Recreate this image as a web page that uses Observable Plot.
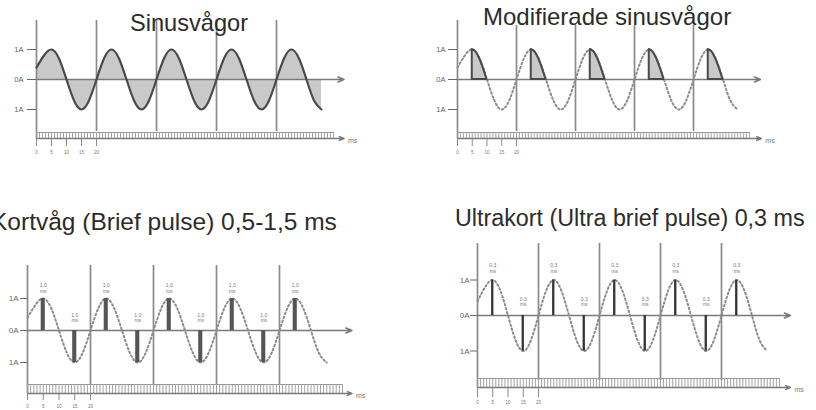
<!DOCTYPE html>
<html><head><meta charset="utf-8">
<script src="https://cdn.jsdelivr.net/npm/d3@7"></script>
<script src="https://cdn.jsdelivr.net/npm/@observablehq/plot@0.6"></script>
<style>
body{margin:0;background:#fff;}
#c{position:relative;width:816px;height:410px;overflow:hidden;background:#fff;font-family:"Liberation Sans",Arial,sans-serif;}
.t{position:absolute;white-space:nowrap;color:#2c2c2c;line-height:1;}
#c svg{position:absolute;left:0;top:0;}
</style></head><body><div id="c"></div>
<script>
// ---------- data ----------
const titles = ["Sinusvågor", "Modifierade sinusvågor", "Kortvåg (Brief pulse) 0,5-1,5 ms", "Ultrakort (Ultra brief pulse) 0,3 ms"];
const ampTicks = [1, 0, -1];
const ampLabels = ["1A", "0A", "1A"];
const gridMs = [20, 40, 60, 80];
const rulerLabelMs = [0, 5, 10, 15, 20];
const rulerLabels = ["0", "5", "10", "15", "20"];
const axisUnit = "ms";
const waveMs = [0,2.5,5,7.5,10,12.5,15,17.5,20,22.5,25,27.5,30,32.5,35,37.5,40,42.5,45,47.5,50,52.5,55,57.5,60,62.5,65,67.5,70,72.5,75,77.5,80,82.5,85,87.5,90,92.5,95];
const waveA = [0.4,0.8,1,0.7,0,-0.7,-1,-0.7, 0,0.7,1,0.7,0,-0.7,-1,-0.7, 0,0.7,1,0.7,0,-0.7,-1,-0.7, 0,0.7,1,0.7,0,-0.7,-1,-0.7, 0,0.7,1,0.7,0,-0.7,-1];
const modStartMs = [5, 25, 45, 65, 85];
const modShapeMs = [0, 1.25, 2.5, 3.75, 5];
const modShapeA = [1, 0.92, 0.7, 0.38, 0];
const pulseMs = [5, 15, 25, 35, 45, 55, 65, 75, 85];
const pulseA = [1, -1, 1, -1, 1, -1, 1, -1, 1];
const briefLabel = "1,0";
const ultraLabel = "0,3";

// ---------- tables built from the arrays ----------
const wave = waveMs.map((t, i) => ({t, a: waveA[i]}));
const modified = modStartMs.flatMap((s, c) => modShapeMs.map((o, i) => ({t: s + o, a: modShapeA[i], c})));
const pulses = pulseMs.map((t, i) => ({t, a: pulseA[i], base: pulseA[i] > 0 ? pulseA[i] : 0}));
const ampTable = ampTicks.map((a, i) => ({a, label: ampLabels[i]}));
const rulerTable = rulerLabelMs.map((t, i) => ({t, label: rulerLabels[i]}));

// ---------- layout of the four panels (pixels) ----------
const layouts = [
  {x0:36, k:3.0, y0:79, a:30, axisTop:20, vTop:20, vBot:131, rTop:132, rBot:138, tickBot:146, labY:152, rEnd:99, arrEnd:102.5, axEnd:102.5, tick:9, labDx:-13, fs:7.5},
  {x0:457, k:2.95, y0:79, a:30, axisTop:20, vTop:25, vBot:131, rTop:132, rBot:138, tickBot:146, labY:152, rEnd:99.3, arrEnd:103, axEnd:102.7, tick:9, labDx:-12, fs:7.5},
  {x0:27, k:3.15, y0:330, a:32, axisTop:265, vTop:265, vBot:385, rTop:384, rBot:393, tickBot:400, labY:406, rEnd:100, arrEnd:103, axEnd:103, tick:7, labDx:-9, fs:8},
  {x0:477, k:3.05, y0:315, a:35.5, axisTop:243, vTop:243, vBot:380, rTop:378, rBot:387, tickBot:397, labY:402, rEnd:99.3, arrEnd:102.6, axEnd:102.6, tick:7, labDx:-8, fs:8}
];
const titleLayout = [
  {left:130, top:11.5, fs:23.6},
  {left:483, top:4.7, fs:24},
  {left:-9, top:210.3, fs:24.5},
  {left:455, top:207, fs:23.3}
];

const gray = "#8a8a8a", dark = "#4a4a4a", fillGray = "#c9c9c9", labelGray = "#666";

function panel(c, kind) {
  const yA = py => (c.y0 - py) / c.a;
  const ms = px => (px - c.x0) / c.k;
  const rulerTicks = d3.range(0, Math.floor(c.rEnd) + 1, 1);
  const marks = [];
  if (kind === 0) {
    marks.push(Plot.areaY(wave, {x: "t", y: "a", curve: "natural", fill: fillGray}));
  }
  // vertical period lines
  marks.push(Plot.ruleX(gridMs, {x: d => d, y1: () => yA(c.vTop), y2: () => yA(c.vBot), stroke: gray, strokeWidth: 1.7}));
  // y axis
  marks.push(Plot.ruleX([0], {x: d => d, y1: () => yA(c.axisTop), y2: () => yA(c.rBot), stroke: gray, strokeWidth: 1.7}));
  // amplitude ticks and labels
  marks.push(Plot.ruleY(ampTable, {y: "a", x1: () => -c.tick / c.k, x2: () => 0, stroke: labelGray, strokeWidth: 1}));
  marks.push(Plot.text(ampTable, {x: () => 0, y: "a", text: "label", textAnchor: "end", dx: c.labDx, fontSize: c.fs, fill: labelGray}));
  // ruler (time axis)
  marks.push(Plot.ruleX(rulerTicks, {x: d => d, y1: () => yA(c.rTop), y2: () => yA(c.rBot), stroke: "#9a9a9a", strokeWidth: 0.9}));
  marks.push(Plot.ruleY([yA(c.rTop)], {y: d => d, x1: () => 0, x2: () => c.rEnd, stroke: "#9a9a9a", strokeWidth: 1}));
  marks.push(Plot.arrow([yA(c.rBot)], {x1: () => 0, x2: () => c.arrEnd, y1: d => d, y2: d => d, stroke: "#7a7a7a", strokeWidth: 1.5, headLength: 5, headAngle: 45}));
  marks.push(Plot.ruleX(rulerTable, {x: "t", y1: () => yA(c.rBot), y2: () => yA(c.tickBot), stroke: "#8a8a8a", strokeWidth: 1}));
  marks.push(Plot.text(rulerTable, {x: "t", y: () => yA(c.labY), text: "label", fontSize: 4.6, fill: "#777"}));
  marks.push(Plot.text([axisUnit], {x: () => c.arrEnd, y: () => yA(c.rBot + 2.5), text: d => d, textAnchor: "start", dx: 4, fontSize: 7, fill: "#777"}));
  // zero axis with arrow
  marks.push(Plot.arrow([0], {x1: () => 0, x2: () => c.axEnd, y1: () => 0, y2: () => 0, stroke: "#7a7a7a", strokeWidth: 1.6, headLength: 6, headAngle: 45}));
  // waves
  if (kind === 0) {
    marks.push(Plot.line(wave, {x: "t", y: "a", curve: "natural", stroke: dark, strokeWidth: 2.2}));
  } else {
    marks.push(Plot.line(wave, {x: "t", y: "a", curve: "natural", stroke: "#8c8c8c", strokeWidth: 2, strokeDasharray: "1.6 2.6", strokeLinecap: "round"}));
  }
  if (kind === 1) {
    marks.push(Plot.areaY(modified, {x: "t", y: "a", z: "c", curve: "natural", fill: fillGray, stroke: dark, strokeWidth: 2, strokeLinejoin: "round"}));
  }
  if (kind >= 2) {
    const w = kind === 2 ? 1.3 : 0.75;
    const lab = kind === 2 ? briefLabel : ultraLabel;
    const pos = pulses.filter(d => d.a > 0), neg = pulses.filter(d => d.a < 0);
    const up = kind === 2 ? [-13, -7.5] : [-15, -9];
    const dn = kind === 2 ? [-15, -10] : [-16, -11];
    const opts = {fontSize: 5, fill: "#777"};
    marks.push(Plot.rect(pulses, {x1: d => d.t - w / 2, x2: d => d.t + w / 2, y1: () => 0, y2: "a", fill: kind === 2 ? "#555" : "#333"}));
    marks.push(Plot.text(pos, {x: "t", y: "base", text: () => lab, dy: up[0], ...opts}));
    marks.push(Plot.text(pos, {x: "t", y: "base", text: () => axisUnit, dy: up[1], ...opts}));
    marks.push(Plot.text(neg, {x: "t", y: "base", text: () => lab, dy: dn[0], ...opts}));
    marks.push(Plot.text(neg, {x: "t", y: "base", text: () => axisUnit, dy: dn[1], ...opts}));
  }
  return Plot.plot({
    width: 816, height: 410, margin: 0,
    x: {domain: [ms(0), ms(816)], axis: null},
    y: {domain: [yA(410), yA(0)], axis: null},
    style: {background: "transparent", overflow: "visible", fontFamily: "Liberation Sans, Arial, sans-serif"},
    marks
  });
}

const root = document.getElementById("c");
layouts.forEach((c, i) => root.appendChild(panel(c, i)));
titles.forEach((t, i) => {
  const d = document.createElement("div");
  d.className = "t";
  d.textContent = t;
  d.style.left = titleLayout[i].left + "px";
  d.style.top = titleLayout[i].top + "px";
  d.style.fontSize = titleLayout[i].fs + "px";
  root.appendChild(d);
});
</script></body></html>
